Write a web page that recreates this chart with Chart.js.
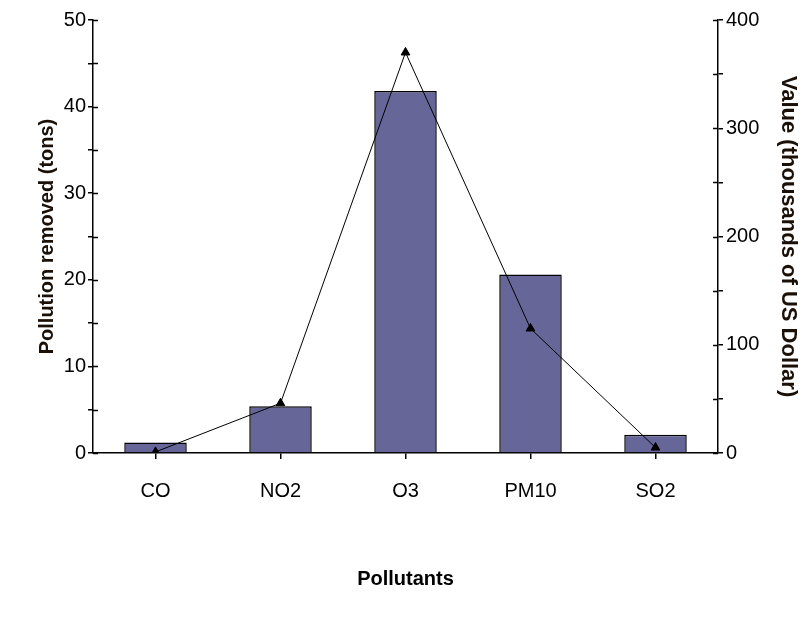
<!DOCTYPE html>
<html>
<head>
<meta charset="utf-8">
<script src="https://cdn.jsdelivr.net/npm/chart.js@4.4.0/dist/chart.umd.min.js"></script>
<style>
  html, body { margin: 0; padding: 0; background: #fff; }
  #wrap { width: 809px; height: 628px; }
</style>
</head>
<body>
<div id="wrap"><canvas id="chart"></canvas></div>
<script>
// data
const pollutants = ['CO', 'NO2', 'O3', 'PM10', 'SO2'];
const removedTons = [1.2, 5.4, 41.8, 20.6, 2.1];
const valueThousandUSD = [1, 46, 370, 115, 5];
const leftTicks = [0, 10, 20, 30, 40, 50];
const rightTicks = [0, 100, 200, 300, 400];

const tickFont = { family: '"Liberation Sans", Arial, sans-serif', size: 20 };
const titleFont = { family: '"Liberation Sans", Arial, sans-serif', size: 20, weight: 'bold' };

// ticks on the y axes cross the axis line, draw the inner half too
const innerTicks = {
  id: 'innerTicks',
  afterDraw(chart) {
    const ctx = chart.ctx;
    ctx.save();
    ctx.strokeStyle = '#000';
    ctx.lineWidth = 1.5;
    ['y', 'y1'].forEach((id) => {
      const s = chart.scales[id];
      const x = id === 'y' ? s.right : s.left;
      const dir = id === 'y' ? 1 : -1;
      s.ticks.forEach((t) => {
        const py = Math.round(s.getPixelForValue(t.value)) + 0.5;
        ctx.beginPath();
        ctx.moveTo(x, py);
        ctx.lineTo(x + dir * 5, py);
        ctx.stroke();
      });
    });
    ctx.restore();
  }
};

new Chart(document.getElementById('chart'), {
  data: {
    labels: pollutants,
    datasets: [
      {
        type: 'line',
        label: 'Value',
        data: valueThousandUSD,
        yAxisID: 'y1',
        borderColor: '#000',
        borderWidth: 1,
        pointStyle: 'triangle',
        pointRadius: 5,
        pointBackgroundColor: '#000',
        pointBorderColor: '#000',
        tension: 0,
        order: 0
      },
      {
        type: 'bar',
        label: 'Pollution removed',
        data: removedTons,
        yAxisID: 'y',
        backgroundColor: '#666699',
        borderColor: '#000',
        borderWidth: 1.5,
        barPercentage: 0.5,
        categoryPercentage: 1,
        order: 1
      }
    ]
  },
  plugins: [innerTicks],
  options: {
    responsive: true,
    maintainAspectRatio: false,
    animation: false,
    layout: { padding: { left: 31, right: 4, top: 20, bottom: 33 } },
    plugins: {
      legend: { display: false },
      tooltip: { enabled: false }
    },
    scales: {
      x: {
        offset: true,
        grid: { offset: false, drawOnChartArea: false, drawTicks: true, tickLength: 6, color: '#000', lineWidth: 1.5 },
        border: { color: '#000', width: 1.5 },
        ticks: { color: '#000', font: tickFont, padding: 20, maxRotation: 0 },
        title: { display: true, text: 'Pollutants', color: '#000', font: titleFont },
        afterFit: (s) => { s.height = 142; }
      },
      y: {
        position: 'left',
        min: 0,
        max: 50,
        grid: { drawOnChartArea: false, tickLength: 5, color: '#000', lineWidth: 1.5 },
        border: { color: '#000', width: 1.5 },
        ticks: {
          stepSize: 5,
          color: '#000',
          font: tickFont,
          padding: 2,
          callback: (v) => leftTicks.includes(v) ? v : ''
        },
        title: { display: true, text: 'Pollution removed (tons)', color: '#1a1008', font: titleFont },
        afterFit: (s) => { s.width = 62; }
      },
      y1: {
        position: 'right',
        min: 0,
        max: 400,
        grid: { drawOnChartArea: false, tickLength: 5, color: '#000', lineWidth: 1.5 },
        border: { color: '#000', width: 1.5 },
        ticks: {
          stepSize: 50,
          color: '#000',
          font: tickFont,
          padding: 3,
          callback: (v) => rightTicks.includes(v) ? v : ''
        },
        title: { display: true, text: 'Value (thousands of US Dollar)', color: '#1a1008', font: { ...titleFont, size: 22 } },
        afterFit: (s) => { s.width = 87; }
      }
    }
  }
});
</script>
</body>
</html>
